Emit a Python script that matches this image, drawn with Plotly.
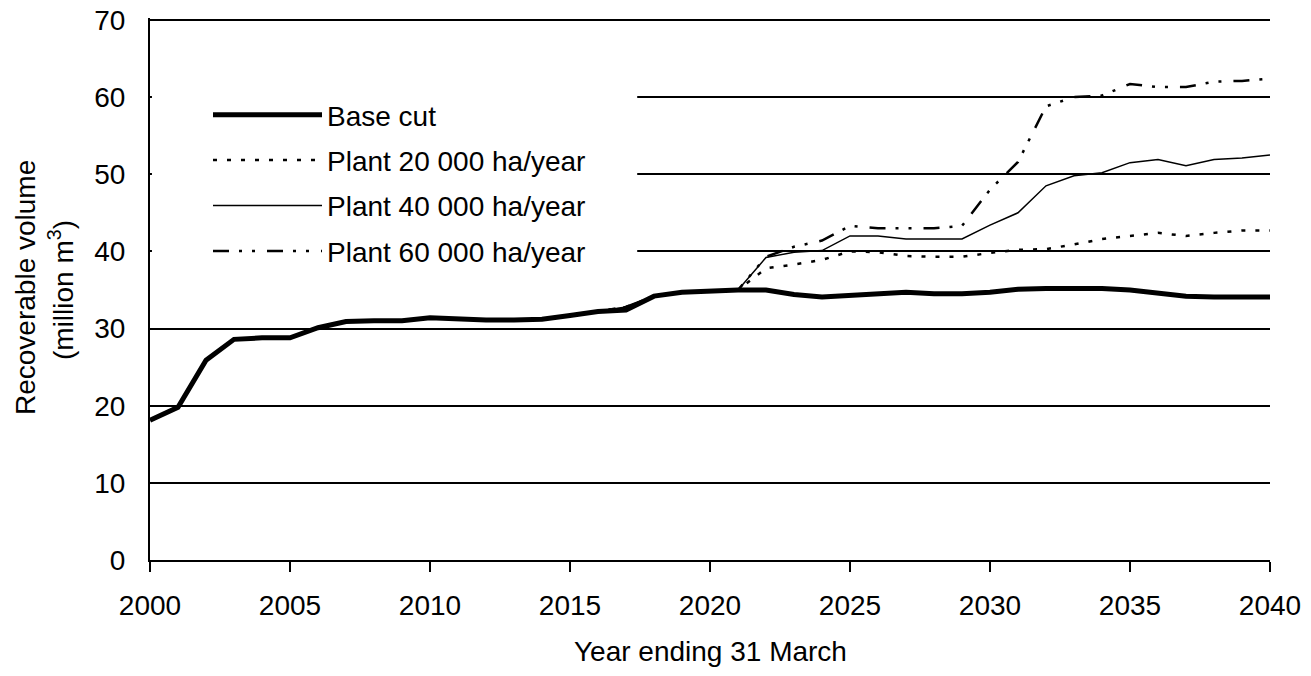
import plotly.graph_objects as go

# ---- data ----
years_base = list(range(2000, 2041))
base_cut = [18.1, 19.8, 25.9, 28.6, 28.8, 28.8, 30.1, 30.9, 31.0, 31.0,
            31.4, 31.2, 31.1, 31.1, 31.2, 31.7, 32.2, 32.4, 34.2, 34.7,
            34.9, 35.0, 35.0, 34.4, 34.1, 34.3, 34.6, 34.7, 34.5, 34.5,
            34.7, 35.1, 35.2, 35.2, 35.2, 35.0, 34.6, 34.2, 34.1, 34.1, 34.1]

years_plant = list(range(2015, 2041))
plant_20 = [31.7, 32.3, 32.8, 34.2, 34.7, 34.9, 35.0, 37.8, 38.3, 38.9,
            40.0, 39.9, 39.4, 39.3, 39.3, 39.8, 40.2, 40.3, 40.9, 41.6,
            42.0, 42.4, 42.0, 42.4, 42.7, 42.7]
plant_40 = [31.7, 32.3, 32.8, 34.2, 34.7, 34.9, 35.0, 39.2, 39.9, 40.1,
            42.0, 42.0, 41.6, 41.6, 41.6, 43.4, 45.0, 48.5, 49.8, 50.2,
            51.5, 51.9, 51.1, 51.9, 52.1, 52.5]
plant_60 = [31.7, 32.3, 32.8, 34.2, 34.7, 34.9, 35.0, 39.3, 40.6, 41.4,
            43.3, 43.0, 43.0, 43.0, 43.3, 48.0, 51.6, 58.8, 60.0, 60.2,
            61.7, 61.3, 61.3, 62.0, 62.1, 62.4]

series_names = ["Base cut", "Plant 20 000 ha/year", "Plant 40 000 ha/year", "Plant 60 000 ha/year"]
x_ticks = [2000, 2005, 2010, 2015, 2020, 2025, 2030, 2035, 2040]
y_ticks = [0, 10, 20, 30, 40, 50, 60, 70]
x_title = "Year ending 31 March"
y_title_1 = "Recoverable volume"
y_title_2 = "(million m<sup>3</sup>)"

FONT = "Liberation Sans, Arial, sans-serif"
FS = 28

# page body has an 8px margin: figure is laid out in its own coordinates
W, H = 1303, 660
L, T = 142, 10
PW, PH = 1120, 542
Y_MAX = 70.25   # a hair above 70 so the top gridline is kept

fig = go.Figure()

fig.add_trace(go.Scatter(x=years_plant, y=plant_20, mode="lines", name=series_names[1],
                         legendgroup="g2", legendrank=2,
                         line=dict(color="black", width=2.5, dash="4px,10px")))
fig.add_trace(go.Scatter(x=years_plant, y=plant_40, mode="lines", name=series_names[2],
                         legendgroup="g3", legendrank=3,
                         line=dict(color="black", width=1.5)))
fig.add_trace(go.Scatter(x=years_plant, y=plant_60, mode="lines", name=series_names[3],
                         legendgroup="g4", legendrank=4,
                         line=dict(color="black", width=2.5, dash="16px,10px,3px,10px,3px,12px")))
fig.add_trace(go.Scatter(x=years_base, y=base_cut, mode="lines", name=series_names[0],
                         legendgroup="g1", legendrank=1,
                         line=dict(color="black", width=5)))

def py(pix_y):
    # page pixel y (reference) -> paper y
    return (T + PH - (pix_y - 8)) / PH

def px(pix_x):
    return ((pix_x - 8) - L) / PW

fig.update_layout(
    width=W, height=H, autosize=False,
    margin=dict(l=L, r=W - L - PW, t=T, b=H - T - PH, pad=0, autoexpand=False),
    paper_bgcolor="white", plot_bgcolor="white",
    font=dict(family=FONT, size=FS, color="black"),
    showlegend=True,
    legend=dict(
        x=px(163), y=py(90), xanchor="left", yanchor="top",
        bgcolor="white", borderwidth=0,
        itemwidth=109, indentation=45,
        traceorder="grouped", tracegroupgap=6,
        font=dict(family=FONT, size=FS, color="black"),
    ),
    xaxis=dict(
        range=[2000, 2040], tickmode="array", tickvals=x_ticks,
        ticktext=[str(v) for v in x_ticks],
        ticks="outside", ticklen=10, tickwidth=2, tickcolor="black",
        showline=True, linecolor="black", linewidth=2,
        showgrid=False, zeroline=False, automargin=False,
        tickfont=dict(family=FONT, size=FS, color="black"),
        ticklabelstandoff=9,
    ),
    yaxis=dict(
        range=[0, Y_MAX], tickmode="array", tickvals=y_ticks,
        ticktext=[str(v) for v in y_ticks],
        ticks="", showline=True, linecolor="black", linewidth=2,
        showgrid=True, gridcolor="black", gridwidth=1.5,
        zeroline=False, ticklabeloverflow="allow", automargin=False,
        tickfont=dict(family=FONT, size=FS, color="black"),
        ticklabelstandoff=17,
    ),
    shapes=[
        # white backing of the legend block (hides gridlines behind it)
        dict(type="rect", xref="x", yref="y",
             x0=2000.07, x1=2017.4, y0=37.3, y1=61.2,
             fillcolor="white", line=dict(width=0), layer="between"),
    ],
    annotations=[
        dict(text=x_title, xref="paper", yref="paper", x=0.5, y=py(651),
             xanchor="center", yanchor="middle", showarrow=False,
             font=dict(family=FONT, size=FS, color="black")),
        dict(text=y_title_1, xref="paper", yref="paper", x=px(25), y=py(288),
             xanchor="center", yanchor="middle", showarrow=False, textangle=-90,
             font=dict(family=FONT, size=FS, color="black")),
        dict(text=y_title_2, xref="paper", yref="paper", x=px(61), y=py(290),
             xanchor="center", yanchor="middle", showarrow=False, textangle=-90,
             font=dict(family=FONT, size=FS, color="black")),
    ],
)

fig.write_html("out.html")
